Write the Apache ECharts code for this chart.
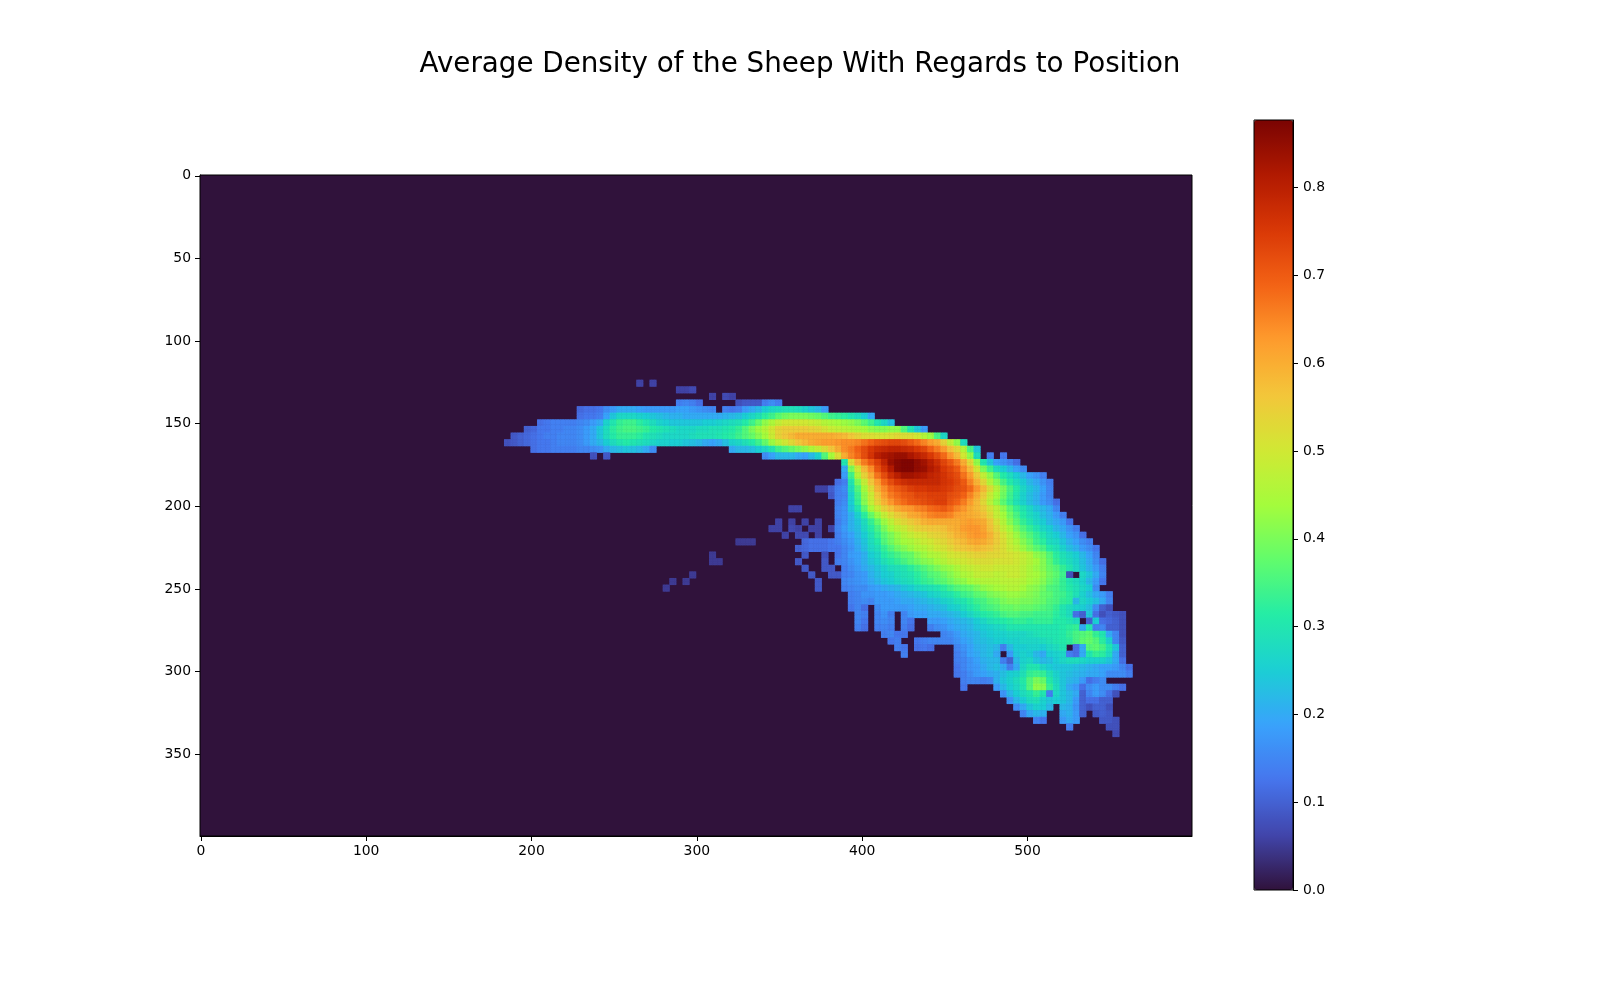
<!DOCTYPE html>
<html><head><meta charset="utf-8">
<style>html,body{margin:0;padding:0;background:#fff}#c{width:1600px;height:1000px}</style>
<script src="https://cdn.jsdelivr.net/npm/echarts@6/dist/echarts.min.js"></script>
</head><body><div id="c"></div>
<script>
const chartTitle = 'Average Density of the Sheep With Regards to Position';
const xTicks = [0,100,200,300,400,500];
const yTicks = [0,50,100,150,200,250,300,350];
const colorbarTicks = [0,0.1,0.2,0.3,0.4,0.5,0.6,0.7,0.8];
const densityMax = 0.877;
const turbo = ['#30123b','#4145ab','#4675ed','#39a2fc','#1bcfd4','#24eca6','#61fc6c','#a4fc3c','#d1e834','#f3c63a','#fe9b2d','#f36315','#d93806','#b11901','#7a0402'];
const cellSize = 4;
// density x100 per 4x4 image block: each segment is [first column, values...]
const y124=[[264,6,0,6]];
const y128=[[288,6,6,7]];
const y132=[[308,6,0,7,6]];
const y136=[[288,14,15,14,12],[324,8,9,9,9,14,16,14]];
const y140=[[228,11,12,12,13,16,18,20,20,20,19,18,18,18,18,18,19,19,18,17,16,15,0,14,13,14,18,20,22,25,27,28,29,29,28,26,24,22,18]];
const y144=[[228,12,13,13,14,19,24,27,27,27,26,25,24,23,22,21,21,20,20,20,20,20,20,21,22,23,25,27,29,32,34,37,39,40,40,40,39,38,36,34,33,32,30,28,25,20]];
const y148=[[204,12,13,14,14,14,14,15,16,18,20,26,30,33,34,34,32,30,28,26,25,24,24,24,24,24,25,25,26,27,28,29,31,34,38,42,45,48,50,50,50,50,49,48,46,45,44,43,42,40,37,34,30,27,23]];
const y152=[[196,10,11,13,13,14,14,15,15,16,18,20,24,28,32,34,35,35,34,33,31,30,29,28,27,27,27,28,28,29,29,30,31,33,36,40,43,46,50,54,55,55,55,55,54,53,51,49,48,47,46,45,44,42,41,41,42,42,36,30,24,18]];
const y156=[[188,9,10,11,12,13,14,14,15,15,15,16,18,20,24,28,31,33,33,33,32,30,29,28,27,27,27,27,28,29,29,29,30,31,32,34,36,38,41,44,49,54,56,58,60,60,60,60,60,60,59,58,56,54,52,52,51,51,52,53,52,52,50,46,43,35,27]];
const y160=[[184,8,9,10,11,12,13,13,14,15,15,15,16,18,20,22,25,28,30,31,30,29,28,27,26,26,25,25,24,23,22,20,19,20,23,26,27,29,31,34,38,43,47,50,53,56,58,60,61,62,62,63,64,64,65,67,69,71,72,73,73,72,70,68,65,62,60,54,48,42,28]];
const y164=[[200,12,13,13,14,14,14,14,15,15,16,17,20,22,23,24,23,22,20,16],[320,20,22,22,23,25,27,30,34,36,38,40,42,45,48,52,56,60,64,66,69,72,75,77,78,79,79,78,77,75,73,69,66,62,57,53,46,35,24]];
const y168=[[236,8,0,9],[340,16,19,22,22,22,20,19,22,26,36,44,52,60,65,68,72,76,80,82,83,84,84,82,80,78,75,72,68,63,58,50,42,28,0,14,0,13]];
const y172=[[388,30,52,60,66,70,74,79,84,86,87,87,85,83,80,77,73,70,66,60,53,42,30,24,19,17,15,12]];
const y176=[[388,20,40,50,58,64,71,76,81,86,87,87,85,84,81,79,75,73,70,64,58,50,40,34,28,25,22,19,16]];
const y180=[[388,18,34,46,54,60,67,72,77,80,83,83,82,81,79,78,76,74,72,67,62,55,48,42,36,31,28,25,22,19,17,14]];
const y184=[[384,12,14,30,40,48,56,62,68,72,75,77,78,78,78,78,78,76,75,73,70,65,59,53,46,41,35,31,28,25,22,20,17,14]];
const y188=[[372,6,6],[380,10,14,16,28,36,44,52,59,64,68,70,72,74,75,75,76,76,75,74,72,71,68,63,58,52,46,40,35,31,27,24,22,19,15]];
const y192=[[380,9,14,15,26,34,42,49,56,62,66,68,70,71,73,73,74,74,74,72,71,69,65,60,55,49,44,39,34,30,26,23,21,18,15]];
const y196=[[384,14,16,25,33,41,48,54,59,63,66,68,70,71,72,73,74,74,71,69,66,62,58,53,47,42,37,33,29,26,23,21,18,16,12]];
const y200=[[356,6,6],[384,15,17,24,30,37,44,49,54,57,60,62,63,65,66,68,69,70,68,65,63,60,58,55,51,47,42,37,33,30,27,24,22,20,15]];
const y204=[[384,15,17,21,26,32,38,43,48,52,55,57,60,61,63,65,66,66,65,62,61,60,59,57,53,48,44,39,35,31,28,26,23,21,18,14]];
const y208=[[348,6,0,6],[364,6,0,6],[384,14,17,21,24,28,33,38,43,47,51,53,55,57,59,60,60,60,60,60,61,62,61,60,56,51,46,41,37,33,30,27,25,22,20,18,13]];
const y212=[[344,6,6,0,7,6,0,6,6,0,6],[384,15,18,21,23,27,31,35,40,44,47,49,52,54,55,56,56,57,59,60,62,63,63,61,57,53,48,44,40,36,33,30,27,25,22,20,17,14]];
const y216=[[352,6,0,7,7,0,6],[384,14,17,19,22,25,29,33,37,40,43,46,48,50,51,53,54,55,57,59,60,62,63,62,59,55,51,47,43,39,36,33,30,27,25,22,19,17,12]];
const y220=[[324,5,5,5],[364,11,12,12,12,13,14,16,18,21,24,28,31,36,39,42,44,45,47,49,50,52,53,55,57,58,60,61,60,58,55,52,48,45,41,38,34,32,28,27,24,21,19,16,14]];
const y224=[[360,10,11,12,12,12,13,13,15,17,20,23,27,29,33,36,39,41,43,45,46,48,50,51,53,55,56,57,58,57,56,54,52,49,47,43,40,37,35,31,29,26,23,21,18,16,13]];
const y228=[[308,5],[364,9],[376,8],[384,13,15,18,19,21,25,27,31,33,35,37,38,41,43,45,46,48,50,51,52,53,54,54,53,53,52,51,50,48,46,42,40,36,32,29,27,25,22,19,15]];
const y232=[[308,5,5],[360,9],[376,9],[384,14,15,17,19,21,24,26,29,31,33,35,37,39,41,42,44,46,48,49,50,51,52,52,52,51,51,51,50,48,46,44,41,37,33,30,28,26,23,20,16,12]];
const y236=[[364,9],[376,9,9],[388,14,16,18,20,22,24,26,28,29,30,32,34,36,38,40,42,43,45,47,48,49,50,50,49,49,49,49,47,45,43,41,38,36,33,30,27,24,21,18,14]];
const y240=[[296,5],[368,9],[380,9,9],[388,14,15,17,18,21,23,25,26,28,29,30,32,34,36,37,39,41,43,45,46,48,48,48,47,48,49,49,47,45,44,42,39,37,34,8,0,27,24,20,15]];
const y244=[[284,5,0,5],[372,9],[388,15,16,17,18,20,22,24,25,27,28,29,31,33,34,36,37,39,41,42,44,45,46,46,46,47,47,47,46,44,43,41,38,36,33,30,28,26,22,18,13]];
const y248=[[280,5],[372,9],[388,14,15,16,16,18,19,20,21,22,24,25,27,28,29,30,32,34,36,37,38,40,42,43,44,45,46,46,44,42,41,39,36,35,33,31,29,27,25,16]];
const y252=[[392,14,15,17,17,18,18,19,20,21,22,23,24,26,27,29,30,32,34,35,37,38,40,41,42,43,43,42,41,40,38,37,35,34,32,29,26,23,20,18,14]];
const y256=[[392,14,15,16,15,18,18,18,19,20,20,21,22,23,24,26,27,29,30,32,34,35,37,38,40,41,41,40,40,39,38,36,35,33,32,22,27,25,23,20,15]];
const y260=[[392,13,15,12,0,16,18,18,18,18,19,20,20,21,22,23,25,26,28,30,32,34,35,36,38,38,39,38,38,37,36,35,33,30,28,26,25,23,16,10,8]];
const y264=[[396,15,14,0,15,17,14,0,15,18,19,19,20,20,21,22,23,25,27,29,31,32,33,35,36,36,35,35,34,34,34,32,30,28,12,10,24,12,8,10,9,8]];
const y268=[[396,15,13,0,15,16,15,0,15,13,0,0,18,18,19,20,21,22,23,25,27,29,30,31,32,33,33,32,33,33,33,31,31,30,28,0,10,25,12,11,10,8]];
const y272=[[396,14,12,0,14,15,14,0,14,12,0,0,14,16,17,19,20,21,22,24,25,26,27,28,30,30,30,30,30,30,30,30,31,32,33,20,30,14,15,10,10,8]];
const y276=[[412,14,15,13,13],[448,15,16,18,20,21,22,24,25,26,26,27,27,27,28,29,30,30,30,31,33,35,36,37,33,30,20,15,8]];
const y280=[[416,13,14],[432,13,14,15,15,15,15,17,19,20,22,23,24,25,25,26,26,27,27,27,28,29,30,31,32,35,37,38,36,32,26,15,9]];
const y284=[[420,14,13],[432,12,13,12],[456,15,17,19,21,22,23,22,14,22,25,25,26,26,25,27,28,30,0,12,20,36,37,35,30,24,10]];
const y288=[[424,14],[456,14,16,19,20,22,23,20,0,18,24,26,25,22,20,25,26,27,14,12,20,30,33,32,28,20,10]];
const y292=[[456,14,15,17,19,21,22,22,14,10,22,26,27,24,22,23,25,27,28,28,27,26,26,26,24,20,12]];
const y296=[[456,13,15,17,18,20,22,23,20,14,20,27,30,30,27,25,24,24,24,23,22,21,20,19,19,18,15,12]];
const y300=[[456,13,14,16,18,19,20,21,23,25,26,29,33,34,33,29,26,24,23,22,21,20,20,19,16,16,16,14]];
const y304=[[460,14,15,15,14,15,21,24,26,28,31,36,40,38,31,27,24,22,21,18,12,14,16]];
const y308=[[460,13],[480,18,22,25,27,30,36,42,41,33,28,24,20,18,12,16,18,16,16,14,12]];
const y312=[[484,17,22,25,28,30,33,30,14,27,24,22,20,10,15,18,16,12,8]];
const y316=[[488,17,22,25,28,29,26,24,25,24,22,18,10,12,12,10,10]];
const y320=[[492,16,20,24,26,25,22,0,22,21,17,10,8,10,10,8]];
const y324=[[496,15,20,22,21,0,0,20,21,18,10,0,9,10,9]];
const y328=[[504,15,13],[520,18,20,18],[544,9,9,8]];
const y332=[[524,14],[548,8,8]];
const y336=[[552,7]];
const densityRows=[[124,y124],[128,y128],[132,y132],[136,y136],[140,y140],[144,y144],[148,y148],[152,y152],[156,y156],[160,y160],[164,y164],[168,y168],[172,y172],[176,y176],[180,y180],[184,y184],[188,y188],[192,y192],[196,y196],[200,y200],[204,y204],[208,y208],[212,y212],[216,y216],[220,y220],[224,y224],[228,y228],[232,y232],[236,y236],[240,y240],[244,y244],[248,y248],[252,y252],[256,y256],[260,y260],[264,y264],[268,y268],[272,y272],[276,y276],[280,y280],[284,y284],[288,y288],[292,y292],[296,y296],[300,y300],[304,y304],[308,y308],[312,y312],[316,y316],[320,y320],[324,y324],[328,y328],[332,y332],[336,y336]];

const xCats = Array.from({length:600},(_,i)=>String(i));
const yCats = Array.from({length:400},(_,i)=>String(i));
const cells = [];
densityRows.forEach(([row,segments])=>{
  segments.forEach(seg=>{
    for(let k=1;k<seg.length;k++){
      if(!seg[k]) continue;
      const col = seg[0]+(k-1)*cellSize;
      for(let dy=0;dy<cellSize;dy++) for(let dx=0;dx<cellSize;dx++) cells.push([col+dx,row+dy,seg[k]/100]);
    }
  });
});
const font = 'DejaVu Sans';
const chart = echarts.init(document.getElementById('c'),null,{renderer:'canvas'});
chart.setOption({
  animation:false,
  backgroundColor:'#fff',
  title:{text:chartTitle,left:'center',top:46,textStyle:{fontFamily:font,fontSize:27.75,fontWeight:'normal',color:'#000'}},
  grid:[
    {left:200,top:175,width:992,height:661,show:true,backgroundColor:'#30123b',borderColor:'#000',borderWidth:1,z:2},
    {left:1254,top:120,width:39,height:770,show:true,backgroundColor:'transparent',borderColor:'#000',borderWidth:1,z:6}
  ],
  xAxis:[
    {type:'category',gridIndex:0,data:xCats,position:'bottom',
     axisLine:{show:true,lineStyle:{color:'#000'}},
     axisTick:{show:true,alignWithLabel:true,length:5,interval:i=>xTicks.includes(i),lineStyle:{color:'#000'}},
     axisLabel:{show:true,interval:i=>xTicks.includes(i),fontFamily:font,fontSize:13.9,color:'#000',margin:8},
     splitLine:{show:false}},
    {type:'value',gridIndex:1,show:false,min:0,max:1}
  ],
  yAxis:[
    {type:'category',gridIndex:0,data:yCats,inverse:true,position:'left',
     axisLine:{show:true,lineStyle:{color:'#000'}},
     axisTick:{show:true,alignWithLabel:true,length:5,interval:i=>yTicks.includes(i),lineStyle:{color:'#000'}},
     axisLabel:{show:true,interval:i=>yTicks.includes(i),fontFamily:font,fontSize:13.9,color:'#000',margin:9,padding:[4,0,0,0]},
     splitLine:{show:false}},
    {type:'value',gridIndex:1,min:0,max:densityMax,position:'right',z:6,
     axisLine:{show:true,onZero:false,lineStyle:{color:'#000'}},
     axisTick:{show:true,length:5,customValues:colorbarTicks,lineStyle:{color:'#000'}},
     axisLabel:{show:true,customValues:colorbarTicks,formatter:v=>v.toFixed(1),fontFamily:font,fontSize:13.9,color:'#000',margin:10,padding:[4,0,0,0]},
     splitLine:{show:false}}
  ],
  visualMap:{type:'continuous',seriesIndex:0,min:0,max:densityMax,show:true,calculable:false,hoverLink:false,
    left:1254,top:120,itemWidth:39,itemHeight:770,padding:0,text:null,z:4,
    inRange:{color:turbo},textStyle:{fontSize:0}},
  series:[{type:'heatmap',xAxisIndex:0,yAxisIndex:0,data:cells,silent:true,progressive:0,animation:false,
    emphasis:{disabled:true},itemStyle:{borderWidth:0}}]
});
</script></body></html>
